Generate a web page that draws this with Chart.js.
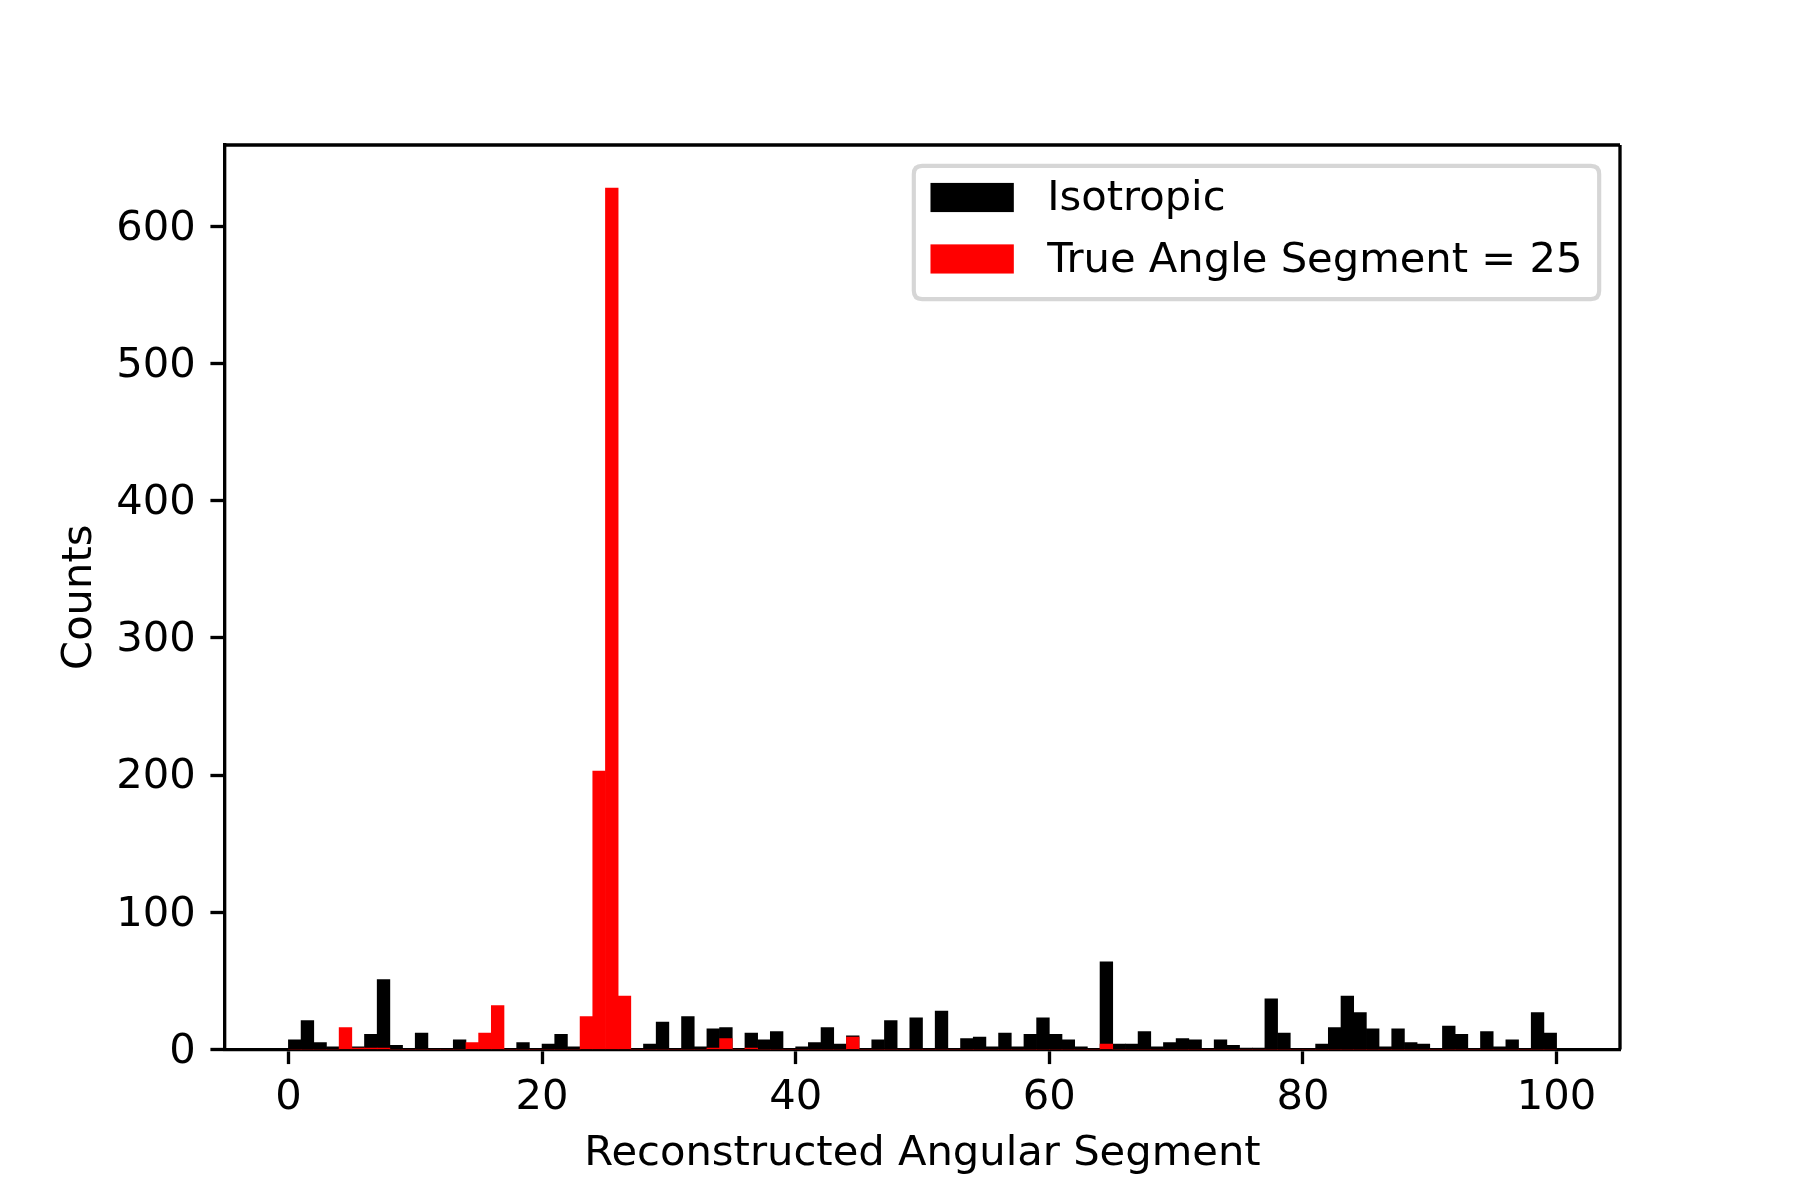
<!DOCTYPE html>
<html>
<head>
<meta charset="utf-8">
<script src="https://cdn.jsdelivr.net/npm/chart.js@4.4.0/dist/chart.umd.min.js"></script>
<style>
html,body{margin:0;padding:0;background:#ffffff;}
#wrap{width:1800px;height:1200px;position:relative;}
</style>
</head>
<body>
<div id="wrap"><canvas id="c" width="1800" height="1200"></canvas></div>
<script>
// ---- data (histogram bins of width 1 from 0 to 100) ----
const binStarts = [0,1,2,3,4,5,6,7,8,9,10,11,12,13,14,15,16,17,18,19,20,21,22,23,24,25,26,27,28,29,30,31,32,33,34,35,36,37,38,39,40,41,42,43,44,45,46,47,48,49,50,51,52,53,54,55,56,57,58,59,60,61,62,63,64,65,66,67,68,69,70,71,72,73,74,75,76,77,78,79,80,81,82,83,84,85,86,87,88,89,90,91,92,93,94,95,96,97,98,99];
const binWidth = 1;
const isotropicCounts = [7,21,5,2,0,2,11,51,3,0,12,0,0,7,0,0,0,0,5,0,4,11,2,0,0,0,0,0,4,20,0,24,2,15,16,0,12,7,13,0,2,5,16,4,10,0,7,21,0,23,0,28,0,8,9,2,12,2,11,23,11,7,2,0,64,4,4,13,2,5,8,7,0,7,3,1,1,37,12,0,0,4,16,39,27,15,2,15,5,4,0,17,11,0,13,2,7,0,27,12];
const trueAngleCounts = [0,0,0,0,16,1,1,1,0,0,0,0,0,0,5,12,32,0,0,0,0,0,0,24,203,628,39,0,0,0,0,0,0,1,8,0,1,0,0,0,0,0,0,0,9,0,0,0,0,0,0,0,0,0,0,0,0,0,0,0,0,0,0,0,4,0,0,0,0,0,0,0,0,0,0,0,0,0,0,0,0,0,0,0,0,0,0,0,0,0,0,0,0,0,0,0,0,0,0,0];
const seriesLabels = ['Isotropic', 'True Angle Segment = 25'];
const seriesColors = ['#000000', '#ff0000'];
const xTickValues = [0,20,40,60,80,100];
const yTickValues = [0,100,200,300,400,500,600];
const xAxisTitle = 'Reconstructed Angular Segment';
const yAxisTitle = 'Counts';

// ---- style ----
const PT = 300/72;
const FS = 10*PT;
const FONT = {family: "'DejaVu Sans'", size: FS, lineHeight: 1.2};
const LW = 0.8*PT;
const TICKLEN = 3.5*PT;

function toPoints(vals){ return vals.map((v,i)=>({x: binStarts[i] + binWidth/2, y: v})); }

const spinesPlugin = {
  id: 'spines',
  afterDraw(chart){
    const {ctx, chartArea: a} = chart;
    ctx.save();
    ctx.strokeStyle = '#000';
    ctx.lineWidth = LW;
    ctx.beginPath();
    ctx.moveTo(a.left, a.top); ctx.lineTo(a.right, a.top);
    ctx.moveTo(a.right, a.top); ctx.lineTo(a.right, a.bottom);
    ctx.stroke();
    ctx.restore();
  }
};

const legendPlugin = {
  id: 'mplLegend',
  afterDraw(chart){
    const {ctx, chartArea: a} = chart;
    ctx.save();
    ctx.font = FS + "px 'DejaVu Sans'";
    const borderPad = 0.4*FS, handleLen = 2*FS, handleH = 0.7*FS, handlePad = 0.8*FS, axPad = 0.5*FS;
    const textW = Math.max(...seriesLabels.map(l => ctx.measureText(l).width));
    const w = 2*borderPad + handleLen + handlePad + textW;
    const h = 3.2*FS;
    const right = a.right - axPad, top = a.top + axPad;
    const left = right - w;
    const r = 0.2*FS;
    ctx.beginPath();
    ctx.moveTo(left + r, top);
    ctx.lineTo(right - r, top);
    ctx.quadraticCurveTo(right, top, right, top + r);
    ctx.lineTo(right, top + h - r);
    ctx.quadraticCurveTo(right, top + h, right - r, top + h);
    ctx.lineTo(left + r, top + h);
    ctx.quadraticCurveTo(left, top + h, left, top + h - r);
    ctx.lineTo(left, top + r);
    ctx.quadraticCurveTo(left, top, left + r, top);
    ctx.closePath();
    ctx.fillStyle = 'rgba(255,255,255,0.8)';
    ctx.fill();
    ctx.strokeStyle = 'rgba(204,204,204,0.8)';
    ctx.lineWidth = 1.0*PT;
    ctx.stroke();
    seriesLabels.forEach((lab, k) => {
      const cy = top + 0.76*FS + k*1.475*FS;
      ctx.fillStyle = seriesColors[k];
      ctx.fillRect(left + borderPad, cy - handleH/2, handleLen, handleH);
      ctx.fillStyle = '#000';
      ctx.textBaseline = 'alphabetic';
      ctx.textAlign = 'left';
      ctx.fillText(lab, left + borderPad + handleLen + handlePad, cy + 0.31*FS);
    });
    ctx.restore();
  }
};

const ctx = document.getElementById('c').getContext('2d');
new Chart(ctx, {
  type: 'bar',
  data: {
    datasets: [
      {label: seriesLabels[0], data: toPoints(isotropicCounts), backgroundColor: seriesColors[0], order: 1},
      {label: seriesLabels[1], data: toPoints(trueAngleCounts), backgroundColor: seriesColors[1], order: 0}
    ]
  },
  options: {
    responsive: false,
    animation: false,
    devicePixelRatio: 1,
    layout: {padding: {left: 0, right: 180, top: 145, bottom: 0}},
    datasets: {bar: {grouped: false, barPercentage: 1, categoryPercentage: 1, borderWidth: 0}},
    plugins: {legend: {display: false}, tooltip: {enabled: false}},
    scales: {
      x: {
        type: 'linear', min: -5, max: 105, offset: false, z: 1,
        afterBuildTicks: s => { s.ticks = xTickValues.map(v => ({value: v})); },
        afterFit: s => { s.height = 150.5; },
        ticks: {font: FONT, color: '#000', padding: 9.5, maxRotation: 0, autoSkip: false, callback: v => String(v)},
        grid: {display: true, offset: false, drawOnChartArea: false, drawTicks: true, tickLength: TICKLEN, tickWidth: LW, tickColor: '#000'},
        border: {display: true, color: '#000', width: LW},
        title: {display: true, text: xAxisTitle, font: FONT, color: '#000', padding: {top: 0, bottom: 20.5}}
      },
      y: {
        type: 'linear', min: 0, max: 659.4, z: 1,
        afterBuildTicks: s => { s.ticks = yTickValues.map(v => ({value: v})); },
        afterFit: s => { s.width = 225; },
        ticks: {font: FONT, color: '#000', padding: TICKLEN, labelOffset: 2.5, autoSkip: false, callback: v => String(v)},
        grid: {display: true, drawOnChartArea: false, drawTicks: true, tickLength: TICKLEN, tickWidth: LW, tickColor: '#000'},
        border: {display: true, color: '#000', width: LW},
        title: {display: true, text: yAxisTitle, font: FONT, color: '#000', padding: {top: 55, bottom: 0}}
      }
    }
  },
  plugins: [spinesPlugin, legendPlugin]
});
</script>
</body>
</html>
